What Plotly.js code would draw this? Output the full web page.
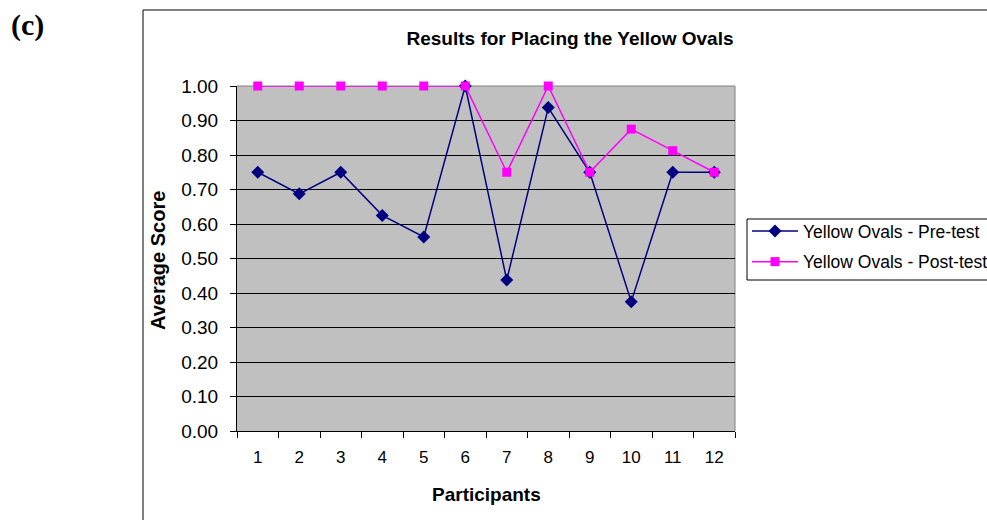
<!DOCTYPE html>
<html>
<head>
<meta charset="utf-8">
<script src="https://cdn.plot.ly/plotly-3.0.1.min.js"></script>
<style>
html,body{margin:0;padding:0;background:#fff;}
#chart{width:987px;height:520px;}
</style>
</head>
<body>
<div id="chart"></div>
<script>
const participants = ["1","2","3","4","5","6","7","8","9","10","11","12"];
const preTest  = [0.75, 0.6875, 0.75, 0.625, 0.5625, 1.0, 0.4375, 0.9375, 0.75, 0.375, 0.75, 0.75];
const postTest = [1.0, 1.0, 1.0, 1.0, 1.0, 1.0, 0.75, 1.0, 0.75, 0.875, 0.8125, 0.75];
const yTicks = [0, 0.1, 0.2, 0.3, 0.4, 0.5, 0.6, 0.7, 0.8, 0.9, 1.0];

const W = 987, H = 520;
const L = 237, R = 735, T = 86, B = 431;
const pw = R - L, ph = B - T;
const px = x => (x - L) / pw;
const py = y => (B - y) / ph;
const SANS = 'Arial, Liberation Sans, sans-serif';

const traces = [
  {
    x: participants, y: preTest, type: 'scatter', mode: 'lines+markers',
    name: 'Yellow Ovals - Pre-test', legendgroup: 'a',
    line: {color: '#000080', width: 1.5},
    marker: {symbol: 'diamond', size: 10, color: '#000080'},
    cliponaxis: false
  },
  {
    x: participants, y: postTest, type: 'scatter', mode: 'lines+markers',
    name: 'Yellow Ovals - Post-test', legendgroup: 'b',
    line: {color: '#FF00FF', width: 1.5},
    marker: {symbol: 'square', size: 9, color: '#FF00FF'},
    cliponaxis: false
  }
];

const layout = {
  width: W, height: H,
  margin: {l: L, r: W - R, t: T, b: H - B, autoexpand: false},
  paper_bgcolor: '#ffffff',
  plot_bgcolor: '#C0C0C0',
  font: {family: SANS, color: '#000', size: 16},
  title: {
    text: '<b>Results for Placing the Yellow Ovals</b>',
    font: {family: SANS, size: 19, color: '#000'},
    xref: 'container', yref: 'container',
    x: 570 / W, y: 1 - 38 / H, xanchor: 'center', yanchor: 'middle'
  },
  xaxis: {
    type: 'category',
    range: [-0.5, 11.5],
    tickson: 'boundaries',
    ticks: 'outside', ticklen: 6, tickcolor: '#000', tickwidth: 1,
    showline: true, linecolor: '#000', linewidth: 1,
    showgrid: false, zeroline: false,
    tickfont: {family: SANS, size: 17},
    ticklabelstandoff: 11,
    fixedrange: true
  },
  yaxis: {
    range: [0, 1],
    tickvals: yTicks, tickformat: '.2f',
    ticks: 'outside', ticklen: 6, tickcolor: '#000', tickwidth: 1,
    showline: true, linecolor: '#000', linewidth: 1,
    showgrid: true, gridcolor: '#000', gridwidth: 1,
    zeroline: false,
    tickfont: {family: SANS, size: 19},
    ticklabelstandoff: 8,
    fixedrange: true
  },
  showlegend: true,
  legend: {
    x: px(747), y: py(213), xanchor: 'left', yanchor: 'top',
    bgcolor: 'rgba(0,0,0,0)', borderwidth: 0,
    font: {family: SANS, size: 17.5, color: '#000'},
    itemwidth: 46,
    traceorder: 'grouped', tracegroupgap: 5,
    itemclick: false, itemdoubleclick: false
  },
  shapes: [
    {type: 'rect', xref: 'paper', yref: 'paper',
     x0: px(143), x1: px(1000), y0: py(530), y1: py(10),
     line: {color: '#000', width: 1}, fillcolor: 'rgba(0,0,0,0)', layer: 'below'},
    {type: 'rect', xref: 'paper', yref: 'paper',
     x0: px(747), x1: px(1000), y0: py(280), y1: py(219),
     line: {color: '#000', width: 1}, fillcolor: '#ffffff', layer: 'above'},
    {type: 'line', xref: 'paper', yref: 'paper', x0: 0, x1: 1, y0: 1, y1: 1,
     line: {color: '#808080', width: 1}, layer: 'between'},
    {type: 'line', xref: 'paper', yref: 'paper', x0: 1, x1: 1, y0: 0, y1: 1,
     line: {color: '#808080', width: 1}, layer: 'between'}
  ],
  annotations: [
    {text: '<b>(c)</b>', xref: 'paper', yref: 'paper', x: px(9), y: py(25),
     xanchor: 'left', yanchor: 'middle', showarrow: false,
     font: {family: 'Liberation Serif, Times New Roman, serif', size: 30, color: '#000'}},
    {text: '<b>Average Score</b>', xref: 'paper', yref: 'paper', x: px(158), y: py(261),
     xanchor: 'center', yanchor: 'middle', textangle: -90, showarrow: false,
     font: {family: SANS, size: 20, color: '#000'}},
    {text: '<b>Participants</b>', xref: 'paper', yref: 'paper', x: px(486), y: py(494),
     xanchor: 'center', yanchor: 'middle', showarrow: false,
     font: {family: SANS, size: 19, color: '#000'}}
  ]
};

Plotly.newPlot('chart', traces, layout, {displayModeBar: false, staticPlot: true});
</script>
</body>
</html>
